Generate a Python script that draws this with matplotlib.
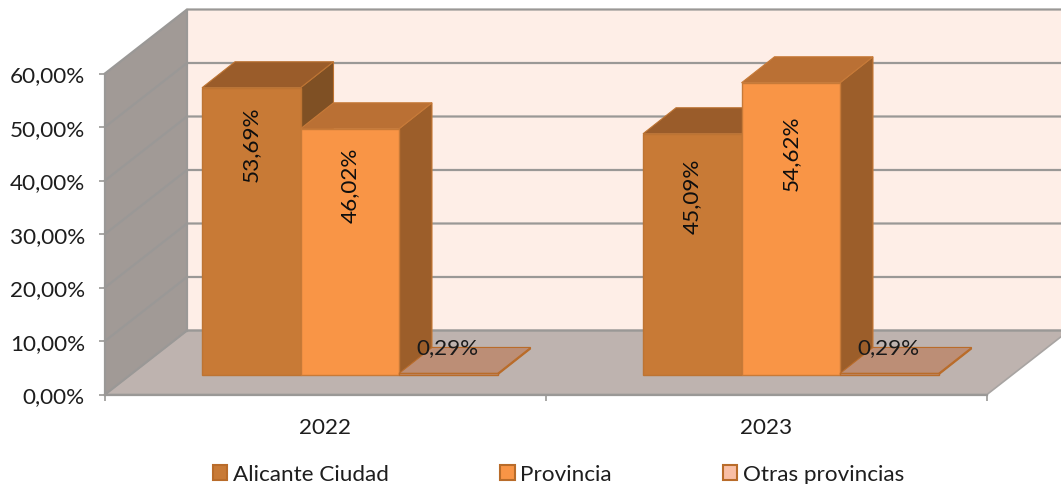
import matplotlib
matplotlib.use("Agg")
import matplotlib.pyplot as plt
from matplotlib.patches import Patch

years = ["2022", "2023"]
series_names = ["Alicante Ciudad", "Provincia", "Otras provincias"]
alicante = [53.69, 45.09]
provincia = [46.02, 54.62]
otras = [0.29, 0.29]
value_ticks = [0, 10, 20, 30, 40, 50, 60]
value_labels = ["0,00%", "10,00%", "20,00%", "30,00%", "40,00%", "50,00%", "60,00%"]

W, H = 1061, 485
Y0_PX = 395.5        # pixel row of the 0% line
PX_PER_UNIT = 5.35   # pixels per percentage point

plt.rcParams["font.family"] = ["Lato", "DejaVu Sans"]
TEXT = "#1E1E1E"
FS = 16.2

fig = plt.figure(figsize=(W / 100, H / 100), dpi=100)
ax = fig.add_axes([0, 0, 1, 1])
ax.set_xlim(0, W)
ax.set_ylim(-(H - Y0_PX) / PX_PER_UNIT, Y0_PX / PX_PER_UNIT)
ax.patch.set_visible(False)


def units(px):
    return px / PX_PER_UNIT


# === walls and floor ===
x_left, x_right = 105, 987
wall_dx, wall_dy = 82, units(64)
grey = "#9A9896"
ax.fill([x_left + wall_dx, x_right + wall_dx, x_right + wall_dx, x_left + wall_dx],
        [wall_dy, wall_dy, 60 + wall_dy, 60 + wall_dy], color="#FEEEE7", lw=0, zorder=1)
ax.fill([x_left, x_left + wall_dx, x_left + wall_dx, x_left],
        [0, wall_dy, 60 + wall_dy, 60], color="#A19A96", lw=0, zorder=1)
ax.fill([x_left, x_left + wall_dx, x_right + wall_dx, x_right],
        [0, wall_dy, wall_dy, 0], facecolor="#BEB3AF", edgecolor="#A8A4A2", lw=1.2, zorder=1.5)
for v in value_ticks:
    ax.plot([x_left, x_left + wall_dx, x_right + wall_dx], [v, v + wall_dy, v + wall_dy],
            color=grey, lw=1.6, zorder=2, solid_joinstyle="miter")
ax.plot([x_left + wall_dx] * 2, [wall_dy, 60 + wall_dy], color=grey, lw=1.6, zorder=2)

# === bars ===
group_left = [202, 643]
bar_w = 98.5
depth_dx, depth_dy = 33, units(26)
lift = units(19.5)
front_cols = ["#C87A36", "#F99546", "#BC8E76"]
top_cols = ["#9A5C2A", "#BA7034", "#BC8E76"]
side_cols = ["#7F5024", "#9C5E2A", "#B96C2A"]
edge_cols = ["#BD7433", "#C77A38", "#B96C2A"]
# how far each rotated label sits below its bar top, in pixels
label_drop = [[55, 62], [56, 69], [0, 0]]

z = 3
for i, vals in enumerate([alicante, provincia, otras]):
    for g, v in enumerate(vals):
        x0 = group_left[g] + i * bar_w
        x1 = x0 + bar_w
        top = lift + v
        ax.fill([x1, x1 + depth_dx, x1 + depth_dx, x1],
                [lift, lift + depth_dy, top + depth_dy, top],
                facecolor=side_cols[i], edgecolor=edge_cols[i], lw=0.8, zorder=z)
        ax.fill([x0, x1, x1 + depth_dx, x0 + depth_dx],
                [top, top, top + depth_dy, top + depth_dy],
                facecolor=top_cols[i], edgecolor=edge_cols[i], lw=0.8, zorder=z + 0.1)
        ax.bar(x0, v, width=bar_w, bottom=lift, align="edge", color=front_cols[i],
               edgecolor=edge_cols[i], lw=1.0, zorder=z + 0.2)
        if v > 1:
            ax.text(x0 + bar_w / 2, top - units(label_drop[i][g]), f"{v:.2f}%".replace(".", ","),
                    rotation=90, ha="center", va="center", fontsize=FS, color="#0E0E0E",
                    zorder=8)
        else:
            ax.text(x0 + bar_w / 2 - 1, top + depth_dy, f"{v:.2f}%".replace(".", ","),
                    ha="center", va="center", fontsize=FS, color="#1A1A1A", zorder=8)
    z += 1

# === axes ===
for name in ["top", "right"]:
    ax.spines[name].set_visible(False)
ax.spines["left"].set_position(("data", x_left))
ax.spines["left"].set_bounds(0, 60)
ax.spines["bottom"].set_position(("data", 0))
ax.spines["bottom"].set_bounds(x_left, x_right)
for name in ["left", "bottom"]:
    ax.spines[name].set_color(grey)
    ax.spines[name].set_linewidth(1.6)
    ax.spines[name].set_zorder(2.5)

ax.set_yticks(value_ticks, value_labels)
ax.tick_params(axis="y", length=4.5, width=1.2, color=grey, labelsize=FS,
               labelcolor=TEXT, pad=10)
ax.set_xticks([x_left, (x_left + x_right) / 2, x_right], ["", "", ""])
ax.set_xticks([325, 766], years, minor=True)
ax.tick_params(axis="x", which="major", length=4.5, width=1.2, color=grey)
ax.tick_params(axis="x", which="minor", length=0, labelsize=FS, labelcolor=TEXT, pad=16)

# === legend ===
handles = [
    Patch(facecolor="#C87A36", edgecolor="#B96C2A", lw=1.5),
    Patch(facecolor="#F99546", edgecolor="#B96C2A", lw=1.5),
    Patch(facecolor="#F9BFA5", edgecolor="#B96C2A", lw=1.5),
]
ax.legend(handles, series_names, ncol=3, loc="center", bbox_to_anchor=(558.5 / W, 1 - 475 / H),
          frameon=False, fontsize=FS, labelcolor=TEXT, handlelength=0.65, handleheight=0.65,
          handletextpad=0.25, columnspacing=4.93, borderpad=0)

fig.savefig("out.png", dpi=100)
